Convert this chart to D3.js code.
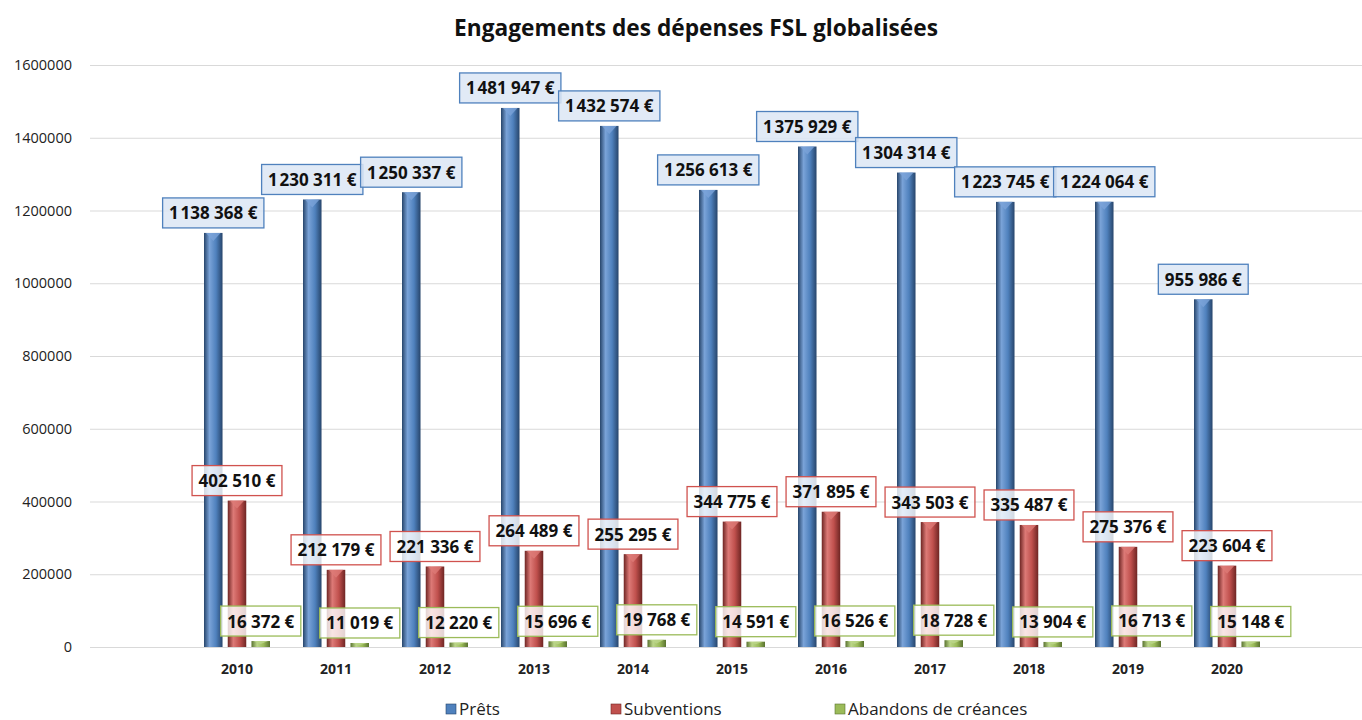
<!DOCTYPE html>
<html>
<head>
<meta charset="utf-8">
<script src="https://cdn.jsdelivr.net/npm/d3@7"></script>
<style>
  body { margin: 0; background: #fff; }
  svg { display: block; }
</style>
</head>
<body>
<svg id="chart" width="1362" height="720"></svg>
<script>
// chart data
const years = ["2010", "2011", "2012", "2013", "2014", "2015", "2016", "2017", "2018", "2019", "2020"];
const prets = [1138368, 1230311, 1250337, 1481947, 1432574, 1256613, 1375929, 1304314, 1223745, 1224064, 955986];
const subventions = [402510, 212179, 221336, 264489, 255295, 344775, 371895, 343503, 335487, 275376, 223604];
const abandons = [16372, 11019, 12220, 15696, 19768, 14591, 16526, 18728, 13904, 16713, 15148];
const yTicks = [0, 200000, 400000, 600000, 800000, 1000000, 1200000, 1400000, 1600000];

const series = [
    { name: "Prêts", values: prets, base: "#4f81bd", light: "#7aa3d8", dark: "#27456b", box: "#4f81bd", boxFill: "rgba(220,230,244,0.85)" },
    { name: "Subventions", values: subventions, base: "#c0504d", light: "#dd7a77", dark: "#6e2523", box: "#d0524e", boxFill: "rgba(255,255,255,0.8)" },
    { name: "Abandons de créances", values: abandons, base: "#9bbb59", light: "#bcd68a", dark: "#5a7330", box: "#9bbb59", boxFill: "rgba(255,255,255,0.8)" }
];

const svg = d3.select("#chart");
const font = "'Open Sans', 'DejaVu Sans', sans-serif";

// scales
const gridLeft = 90, gridRight = 1362;
const yScale = d3.scaleLinear().domain([0, 1600000]).range([647, 65]);
const xScale = d3.scaleBand().domain(years).range([187.5, 1276.5]);
const inner = d3.scaleBand().domain(series.map(s => s.name)).range([-33, 33]).paddingInner(0.22);

// gradients for the cylinder look
const defs = svg.append("defs");
series.forEach((s, i) => {
    const g = defs.append("linearGradient").attr("id", "grad" + i)
        .attr("x1", "0").attr("x2", "1").attr("y1", "0").attr("y2", "0");
    g.append("stop").attr("offset", "0%").attr("stop-color", s.dark);
    g.append("stop").attr("offset", "30%").attr("stop-color", s.light);
    g.append("stop").attr("offset", "65%").attr("stop-color", s.base);
    g.append("stop").attr("offset", "100%").attr("stop-color", s.dark);
});

// title
svg.append("text")
    .attr("x", 696).attr("y", 36)
    .attr("text-anchor", "middle")
    .style("font-family", font)
    .style("font-weight", "bold")
    .style("font-size", "22.7px")
    .style("fill", "#111")
    .text("Engagements des dépenses FSL globalisées");

// y axis gridlines + labels
const yAxis = d3.axisLeft(yScale).tickValues(yTicks).tickFormat(d3.format("d"))
    .tickSize(-(gridRight - gridLeft)).tickPadding(18);
const yg = svg.append("g").attr("transform", "translate(" + gridLeft + ",0)").call(yAxis);
yg.select(".domain").remove();
yg.selectAll(".tick line").attr("stroke", "#d9d9d9").attr("stroke-width", 1.2);
yg.selectAll(".tick text").style("font-family", font).style("font-size", "14.5px").style("fill", "#222");

// x axis labels
const xAxis = d3.axisBottom(xScale).tickSize(0).tickPadding(17);
const xg = svg.append("g").attr("transform", "translate(0,647)").call(xAxis);
xg.select(".domain").remove();
xg.selectAll(".tick text").style("font-family", font).style("font-size", "14px").style("font-weight", "bold").style("fill", "#222");

// bars
const barW = inner.bandwidth();
series.forEach((s, si) => {
    const g = svg.append("g");
    g.selectAll("rect")
        .data(s.values)
        .enter()
        .append("rect")
        .attr("x", (d, i) => xScale(years[i]) + xScale.bandwidth() / 2 + inner(s.name))
        .attr("y", d => yScale(d))
        .attr("width", barW)
        .attr("height", d => 647 - yScale(d))
        .attr("fill", "url(#grad" + si + ")");
    // small light tip at the top of each bar
    g.selectAll("path")
        .data(s.values)
        .enter()
        .append("path")
        .attr("d", (d, i) => {
            const x0 = xScale(years[i]) + xScale.bandwidth() / 2 + inner(s.name);
            const y0 = yScale(d);
            const h = Math.min(8, (647 - y0) / 2);
            return "M" + (x0 + 2) + "," + y0 + "L" + (x0 + barW - 2) + "," + y0 + "L" + (x0 + barW / 2) + "," + (y0 + h) + "Z";
        })
        .attr("fill", s.light)
        .attr("opacity", 0.8);
});

// value labels (millions group sits tight against the rest, like the source)
const fmt = v => {
    const s = d3.format(",")(v).split(",");
    if (s.length === 3) return s[0] + "\u200A" + s[1] + " " + s[2] + " €";
    return s.join(" ") + " €";
};
series.forEach(s => {
    s.values.forEach((v, i) => {
        const cx = xScale(years[i]) + xScale.bandwidth() / 2 + inner(s.name) + barW / 2;
        const bottom = yScale(v) - 5;
        const lg = svg.append("g");
        const rect = lg.append("rect");
        const t = lg.append("text")
            .attr("x", cx).attr("y", bottom - 8.5)
            .attr("text-anchor", "middle")
            .style("font-family", font)
            .style("font-weight", "bold")
            .style("font-size", "17px")
            .style("fill", "#111")
            .text(fmt(v));
        const bw = t.node().getComputedTextLength() + 13;
        rect.attr("x", cx - bw / 2).attr("y", bottom - 30)
            .attr("width", bw).attr("height", 30)
            .attr("fill", s.boxFill)
            .attr("stroke", s.box).attr("stroke-width", 1.3);
    });
});

// legend
const legendX = [446, 611, 835];
series.forEach((s, i) => {
    const lg = svg.append("g").attr("transform", "translate(" + legendX[i] + ",704)");
    lg.append("rect").attr("width", 10).attr("height", 10).attr("fill", s.base).attr("stroke", s.dark).attr("stroke-width", 0.6);
    lg.append("text").attr("x", 13).attr("y", 11)
        .style("font-family", font).style("font-size", "17px").style("fill", "#222")
        .text(s.name);
});
</script>
</body>
</html>
